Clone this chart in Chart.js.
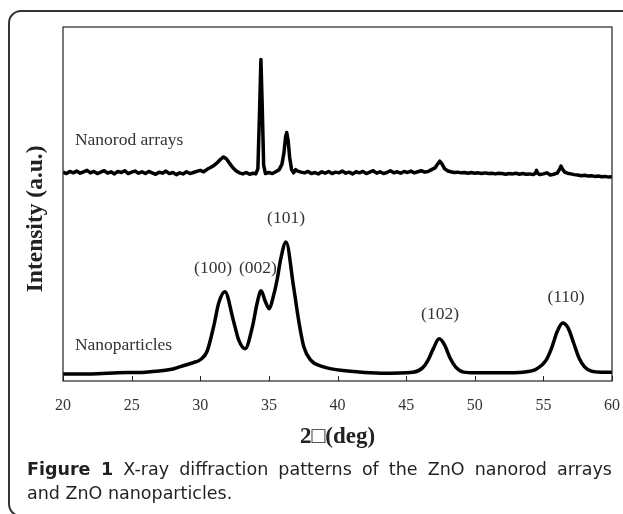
<!DOCTYPE html>
<html>
<head>
<meta charset="utf-8">
<script src="https://cdn.jsdelivr.net/npm/chart.js@4.4.1/dist/chart.umd.min.js"></script>
<style>
  html, body { margin: 0; padding: 0; background: #fff; width: 623px; height: 514px; overflow: hidden; }
  #frame { position: absolute; left: 8px; top: 10px; width: 650px; height: 507px; border: 2px solid #333; border-radius: 13px; box-sizing: border-box; }
  #wrap { position: absolute; left: 0; top: 0; width: 623px; height: 460px; }
  #caption { position: absolute; left: 27px; top: 457px; width: 585px; font-family: "DejaVu Sans", sans-serif; font-size: 17.5px; color: #231f20; line-height: 24px; }
  #caption .l1 { text-align: justify; text-align-last: justify; }
</style>
</head>
<body>
<div id="frame"></div>
<div id="wrap"><canvas id="c" width="623" height="460"></canvas></div>
<div id="caption">
  <div class="l1"><b>Figure 1</b> X-ray diffraction patterns of the ZnO nanorod arrays</div>
  <div class="l2">and ZnO nanoparticles.</div>
</div>
<script>
// ---- data (2θ in degrees, intensity in arbitrary units) ----
const xTicks = [20, 25, 30, 35, 40, 45, 50, 55, 60];

const particleX = [20, 22, 24, 26, 27, 28, 28.5, 29, 29.5, 30, 30.5, 31, 31.35, 31.8, 32.4, 32.8, 33.27, 33.8, 34.15, 34.43, 34.75, 35.03, 35.3, 35.6, 35.85, 36.25, 36.8, 37.2, 37.55, 38.05, 38.8, 40.75, 43.2, 45.5, 46.2, 46.6, 47.0, 47.4, 47.8, 48.2, 48.6, 49.2, 50, 52, 53.5, 54.5, 55.2, 55.6, 56.0, 56.4, 56.8, 57.2, 57.6, 58.0, 58.5, 59.2, 60];
const particleY = [20, 20, 23, 25, 28, 34, 40, 46, 52, 60, 84, 158, 221, 252, 173, 116, 91, 153, 221, 255, 224, 204, 235, 286, 342, 393, 266, 164, 96, 59, 42, 28, 22, 25, 37, 59, 93, 119, 102, 65, 40, 25, 23, 23, 25, 34, 59, 93, 139, 164, 150, 108, 65, 40, 28, 25, 25];

const rodX = [20.00, 20.25, 20.50, 20.75, 21.00, 21.25, 21.50, 21.75, 22.00, 22.25, 22.50, 22.75, 23.00, 23.25, 23.50, 23.75, 24.00, 24.25, 24.50, 24.75, 25.00, 25.25, 25.50, 25.75, 26.00, 26.25, 26.50, 26.75, 27.00, 27.25, 27.50, 27.75, 28.00, 28.25, 28.50, 28.75, 29.00, 29.25, 29.50, 29.75, 30.00, 30.25, 30.50, 30.75, 31.00, 31.25, 31.50, 31.70, 31.90, 32.10, 32.35, 32.60, 32.85, 33.10, 33.35, 33.60, 33.85, 34.05, 34.20, 34.32, 34.42, 34.52, 34.62, 34.75, 35.00, 35.25, 35.50, 35.75, 35.95, 36.10, 36.22, 36.30, 36.40, 36.52, 36.65, 36.80, 36.95, 37.10, 37.35, 37.60, 37.85, 38.10, 38.35, 38.60, 38.85, 39.10, 39.35, 39.60, 39.85, 40.10, 40.35, 40.60, 40.85, 41.10, 41.35, 41.60, 41.85, 42.10, 42.35, 42.60, 42.85, 43.10, 43.35, 43.60, 43.85, 44.10, 44.35, 44.60, 44.85, 45.10, 45.35, 45.60, 45.85, 46.10, 46.35, 46.60, 46.85, 47.10, 47.30, 47.45, 47.60, 47.80, 48.00, 48.25, 48.50, 48.75, 49.00, 49.25, 49.50, 49.75, 50.00, 50.25, 50.50, 50.75, 51.00, 51.25, 51.50, 51.75, 52.00, 52.25, 52.50, 52.75, 53.00, 53.25, 53.50, 53.75, 54.00, 54.25, 54.40, 54.50, 54.60, 54.75, 55.00, 55.25, 55.50, 55.75, 56.00, 56.15, 56.28, 56.40, 56.55, 56.75, 57.00, 57.25, 57.50, 57.75, 58.00, 58.25, 58.50, 58.75, 59.00, 59.25, 59.50, 59.75, 60.00];
const rodY = [590, 586, 592, 588, 593, 587, 591, 595, 588, 592, 586, 590, 594, 587, 591, 585, 592, 589, 594, 586, 590, 593, 587, 591, 586, 592, 588, 584, 590, 587, 593, 586, 589, 583, 588, 585, 591, 586, 589, 592, 595, 591, 598, 603, 609, 617, 627, 633, 628, 617, 604, 594, 588, 585, 589, 584, 587, 585, 600, 760, 908, 770, 610, 586, 589, 586, 591, 597, 612, 645, 690, 702, 680, 630, 598, 588, 597, 593, 590, 588, 592, 586, 589, 585, 591, 587, 592, 586, 590, 588, 593, 587, 590, 585, 591, 588, 592, 586, 590, 594, 587, 591, 586, 589, 594, 588, 591, 587, 592, 589, 593, 588, 591, 594, 590, 592, 597, 602, 613, 621, 614, 600, 594, 591, 589, 590, 588, 589, 587, 589, 587, 588, 586, 588, 586, 587, 585, 587, 586, 584, 586, 585, 587, 584, 586, 584, 585, 583, 586, 595, 586, 583, 585, 588, 582, 584, 587, 596, 607, 598, 590, 587, 585, 583, 582, 580, 581, 579, 580, 578, 579, 577, 578, 576, 577];

const peakLabels = ["(100)", "(002)", "(101)", "(102)", "(110)"];
const peakLabelX = [30.93, 34.2, 36.25, 47.47, 56.65];
const peakLabelY = [318, 318, 459, 188, 236];

const sampleNames = ["Nanorod arrays", "Nanoparticles"];
const sampleNameX = [20.87, 20.87];
const sampleNameY = [680, 100];

const yTitle = "Intensity (a.u.)";
const xTitle = "2\u25A1(deg)";

const toPts = (xs, ys) => xs.map((v, i) => ({x: v, y: ys[i]}));

const overlay = {
  id: 'overlay',
  afterDatasetsDraw(chart) {
    const {ctx, chartArea: a, scales: {x, y}} = chart;
    ctx.save();
    ctx.strokeStyle = '#222';
    ctx.lineWidth = 1.2;
    ctx.strokeRect(a.left, a.top, a.right - a.left, a.bottom - a.top);
    ctx.beginPath();
    xTicks.forEach(t => {
      const px = Math.round(x.getPixelForValue(t)) + 0.5;
      ctx.moveTo(px, a.bottom);
      ctx.lineTo(px, a.bottom - 5);
    });
    ctx.lineWidth = 1;
    ctx.stroke();
    ctx.fillStyle = '#333';
    ctx.font = '17.5px "Liberation Serif"';
    ctx.textBaseline = 'middle';
    ctx.textAlign = 'center';
    peakLabels.forEach((s, i) => ctx.fillText(s, x.getPixelForValue(peakLabelX[i]), y.getPixelForValue(peakLabelY[i])));
    ctx.textAlign = 'left';
    sampleNames.forEach((s, i) => ctx.fillText(s, x.getPixelForValue(sampleNameX[i]), y.getPixelForValue(sampleNameY[i])));
    ctx.translate(36, y.getPixelForValue(458));
    ctx.rotate(-Math.PI / 2);
    ctx.textAlign = 'center';
    ctx.fillStyle = '#222';
    ctx.font = 'bold 23.5px "Liberation Serif"';
    ctx.fillText(yTitle, 0, 0);
    ctx.restore();
  }
};

new Chart(document.getElementById('c'), {
  type: 'line',
  data: {
    datasets: [
      { label: 'Nanorod arrays', data: toPts(rodX, rodY), borderColor: '#000', borderWidth: 3.5, pointRadius: 0, tension: 0, borderJoinStyle: 'round', fill: false },
      { label: 'Nanoparticles', data: toPts(particleX, particleY), borderColor: '#000', borderWidth: 3.5, pointRadius: 0, cubicInterpolationMode: 'monotone', fill: false }
    ]
  },
  options: {
    responsive: false,
    animation: false,
    layout: { padding: { left: 63, right: 11, top: 27, bottom: 0 } },
    plugins: { legend: { display: false }, tooltip: { enabled: false } },
    scales: {
      x: {
        type: 'linear', min: 20, max: 60,
        afterBuildTicks: s => { s.ticks = xTicks.map(v => ({value: v})); },
        afterFit: s => { s.height = 79; s.paddingLeft = 0; s.paddingRight = 0; },
        grid: { display: false, drawTicks: false },
        border: { display: false },
        ticks: { color: '#333', font: { family: 'Liberation Serif', size: 16 }, padding: 15, maxRotation: 0 },
        title: { display: true, text: xTitle, color: '#222', font: { family: 'Liberation Serif', size: 23, weight: 'bold' }, padding: { top: 0, bottom: 9 } }
      },
      y: { display: false, min: 0, max: 1000 }
    }
  },
  plugins: [overlay]
});
</script>
</body>
</html>
